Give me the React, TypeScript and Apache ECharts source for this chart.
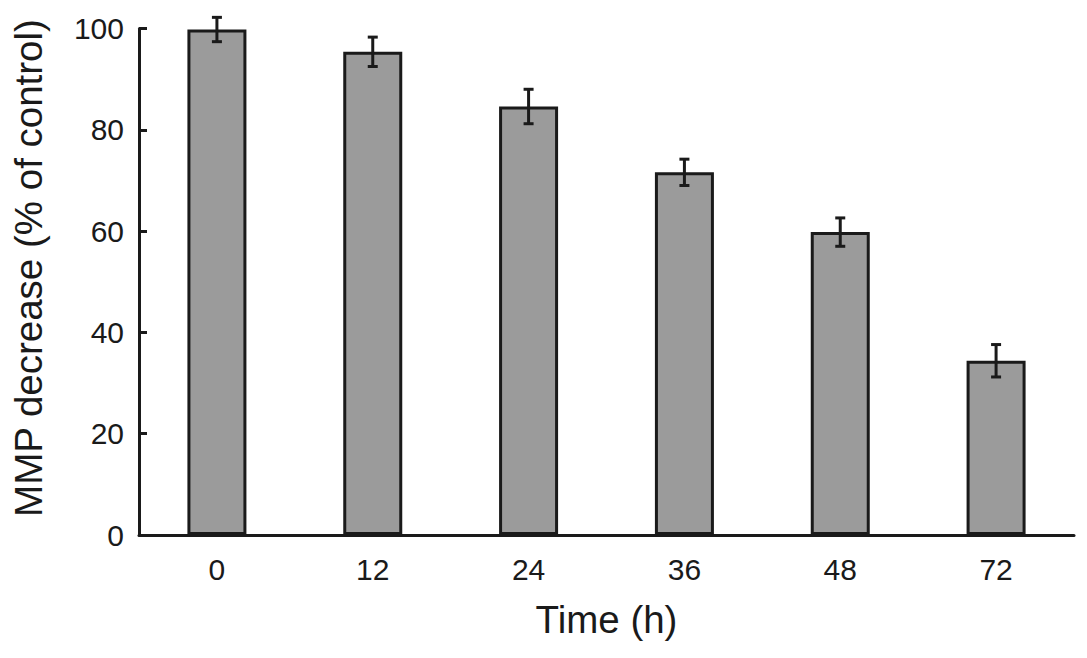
import React, { useEffect, useRef } from "react";
import * as echarts from "echarts";

const categories = ["0", "12", "24", "36", "48", "72"];
const values = [99.8, 95.4, 84.6, 71.6, 59.8, 34.4];
const errors = [2.4, 2.9, 3.4, 2.6, 2.8, 3.2];
const yTicks = [0, 20, 40, 60, 80, 100];
const yAxisTitle = "MMP decrease (% of control)";
const xAxisTitle = "Time (h)";

export default function App() {
  const ref = useRef<HTMLDivElement>(null);
  useEffect(() => {
    if (!ref.current) return;
    const chart = echarts.init(ref.current, null, { renderer: "svg" });
    const font = "'Liberation Sans', Arial, sans-serif";
    chart.setOption({
      animation: false,
      backgroundColor: "#ffffff",
      grid: { left: 139, right: 13, top: 28.5, bottom: 123, containLabel: false },
      graphic: [
        {
          type: "text",
          x: 28,
          y: 268,
          rotation: Math.PI / 2,
          style: {
            text: yAxisTitle,
            fontFamily: font,
            fontSize: 38.5,
            fill: "#1a1a1a",
            align: "center",
            verticalAlign: "middle",
          },
        },
      ],
      xAxis: {
        type: "category",
        data: categories,
        name: xAxisTitle,
        nameLocation: "middle",
        nameGap: 84,
        nameTextStyle: { fontFamily: font, fontSize: 38.5, color: "#1a1a1a", verticalAlign: "middle" },
        axisLine: { lineStyle: { color: "#1a1a1a", width: 3 } },
        axisTick: { show: false },
        axisLabel: { fontFamily: font, fontSize: 30, color: "#1a1a1a", margin: 19 },
      },
      yAxis: {
        type: "value",
        min: 0,
        max: 100,
        interval: 20,
        axisLine: { show: true, lineStyle: { color: "#1a1a1a", width: 3 } },
        axisTick: { show: true, inside: true, length: 8, lineStyle: { color: "#1a1a1a", width: 3 } },
        splitLine: { show: false },
        axisLabel: {
          fontFamily: font,
          fontSize: 30,
          color: "#1a1a1a",
          margin: 15,
          formatter: (v: number) => (yTicks.includes(v) ? String(v) : ""),
        },
      },
      series: [
        {
          type: "bar",
          data: values,
          barWidth: 59,
          itemStyle: { color: "#9b9b9b", borderColor: "#1a1a1a", borderWidth: 3 },
        },
        {
          type: "custom",
          data: values.map((v, i) => [i, v - errors[i], v + errors[i]]),
          renderItem: (params: any, api: any) => {
            const lo = api.coord([api.value(0), api.value(1)]);
            const hi = api.coord([api.value(0), api.value(2)]);
            const x = lo[0];
            const w = 5;
            const style = { stroke: "#1a1a1a", lineWidth: 3 };
            return {
              type: "group",
              children: [
                { type: "line", shape: { x1: x, y1: lo[1], x2: x, y2: hi[1] }, style },
                { type: "line", shape: { x1: x - w, y1: lo[1], x2: x + w, y2: lo[1] }, style },
                { type: "line", shape: { x1: x - w, y1: hi[1], x2: x + w, y2: hi[1] }, style },
              ],
            };
          },
          z: 10,
        },
      ],
    });
    return () => chart.dispose();
  }, []);
  return (
    <div
      ref={ref}
      style={{ position: "fixed", left: 0, top: 0, width: 1087, height: 658, background: "#fff" }}
    />
  );
}
